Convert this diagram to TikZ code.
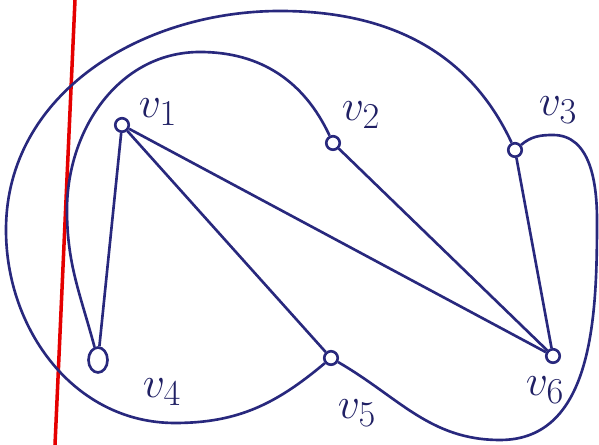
\documentclass[tikz,border=0pt]{standalone}
\usepackage{xcolor}
\usepackage{tikz}
\usetikzlibrary{positioning,shapes.geometric}
\definecolor{pen}{RGB}{40,40,125}
\begin{document}
\begin{tikzpicture}[x=0.02cm,y=0.02cm,
  vtx/.style={circle,draw=pen,fill=white,line width=1.5pt,minimum size=0.27cm,inner sep=0pt},
  lbl/.style={text=pen!80!black,font=\Huge},
  edge/.style={draw=pen,line width=1.5pt},
  margin/.style={draw=red!90!black,line width=2pt}]
  \useasboundingbox (0,0) rectangle (599,445);
  \draw[margin](75,445)--(55,0);
  \node[vtx](v1) at (122,320){};
  \node[vtx](v2) at (333,302){};
  \node[vtx](v3) at (515,295){};
  \node[vtx,ellipse,minimum width=0.38cm,minimum height=0.5cm](v4) at (98,85){};
  \node[vtx](v5) at (331,87){};
  \node[vtx](v6) at (553,89){};
  \node[lbl](l1) at (158,333){$v_1$};
  \node[lbl](l2) at (361,330){$v_2$};
  \node[lbl](l3) at (558,335){$v_3$};
  \node[lbl](l4) at (162,53){$v_4$};
  \node[lbl](l5) at (357,32){$v_5$};
  \node[lbl](l6) at (545,55){$v_6$};
  \draw[edge](v1)--(v4);\draw[edge](v1)--(v5);\draw[edge](v1)--(v6);
  \draw[edge](v2)--(v6);\draw[edge](v3)--(v6);
  \draw[edge](v3) to[out=115,in=0] (280,434) to[out=180,in=90] (6,215)
    to[out=270,in=180] (175,22) to[out=0,in=220] (v5);
  \draw[edge](v4) to[out=105,in=270] (67,235) to[out=90,in=180] (200,393)
    to[out=0,in=115] (v2);
  \draw[edge](v3) to[out=40,in=180] (553,310) to[out=0,in=90] (597,225)
    to[out=270,in=0] (500,5) to[out=180,in=330] (v5);
\end{tikzpicture}
\end{document}
